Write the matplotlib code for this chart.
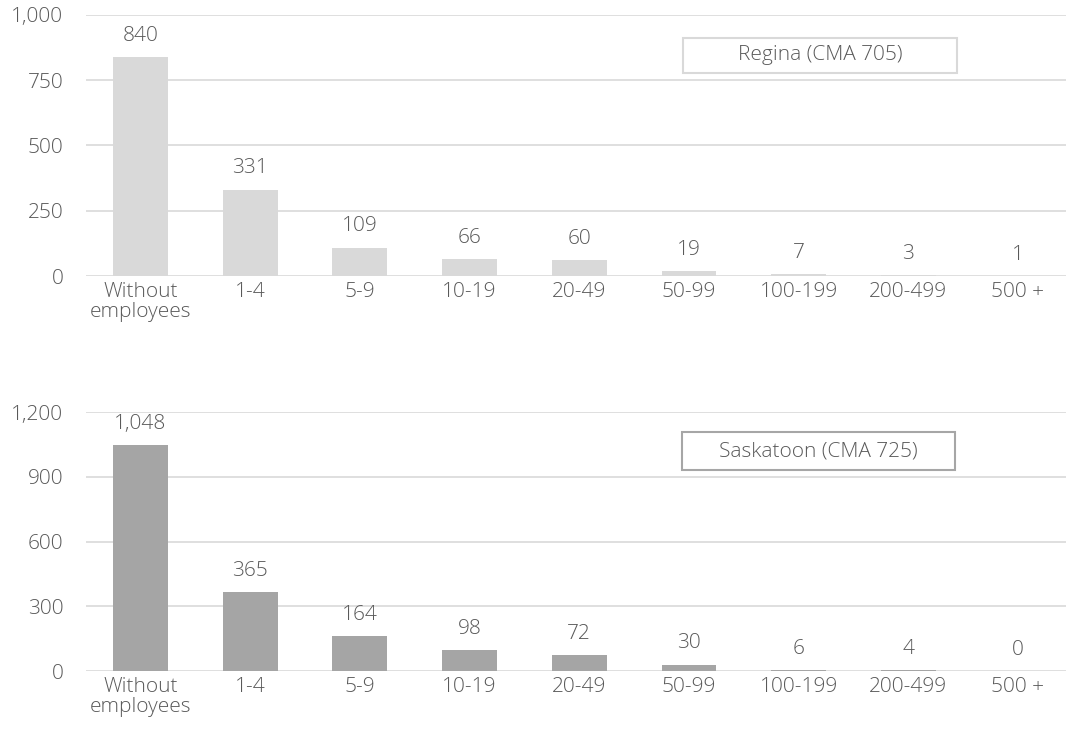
import numpy as np
import matplotlib.pyplot as plt
import matplotlib.patches as patches

# data
categories = ['Without\nemployees', '1-4', '5-9', '10-19', '20-49', '50-99', '100-199', '200-499', '500 +']
regina = [840, 331, 109, 66, 60, 19, 7, 3, 1]
saskatoon = [1048, 365, 164, 98, 72, 30, 6, 4, 0]
regina_ticks = [0, 250, 500, 750, 1000]
saskatoon_ticks = [0, 300, 600, 900, 1200]

plt.rcParams['font.family'] = ['Open Sans', 'DejaVu Sans']
plt.rcParams['font.weight'] = 'light'
txt_col = '#595959'
grid_col = '#d9d9d9'
fs = 15

fig = plt.figure(figsize=(10.66, 7.46), dpi=100)
ax1 = fig.add_axes([0.0804, 0.630, 0.926, 0.350])
ax2 = fig.add_axes([0.0804, 0.1005, 0.926, 0.347])


def draw_panel(ax, vals, ticks, color, label, box_col, box):
    x = np.arange(len(categories))
    bars = ax.bar(x, vals, width=0.5, color=color, zorder=2)
    for b, v in zip(bars, vals):
        ax.annotate(format(v, ','), (b.get_x() + b.get_width() / 2, v),
                    xytext=(0, 8), textcoords='offset points',
                    ha='center', va='bottom', fontsize=fs, color=txt_col)
    ax.set_xlim(-0.5, len(categories) - 0.5)
    ax.set_ylim(0, ticks[-1])
    ax.set_yticks(ticks)
    ax.set_yticklabels([format(t, ',') for t in ticks])
    ax.set_xticks(x)
    ax.set_xticklabels(categories, linespacing=1.05)
    ax.tick_params(length=0, labelsize=fs, labelcolor=txt_col)
    ax.tick_params(axis='y', pad=16)
    ax.tick_params(axis='x', pad=4)
    ax.yaxis.grid(True, color=grid_col, linewidth=1.2, zorder=0)
    ax.set_axisbelow(True)
    for s in ax.spines.values():
        s.set_visible(False)
    x0, y0, x1, y1 = box
    rect = patches.Rectangle((x0, y0), x1 - x0, y1 - y0, transform=ax.transAxes,
                             fill=True, facecolor='white', edgecolor=box_col,
                             linewidth=1.5, zorder=3, clip_on=False)
    ax.add_patch(rect)
    ax.text((x0 + x1) / 2, (y0 + y1) / 2, label, transform=ax.transAxes,
            ha='center', va='center', fontsize=fs, color=txt_col, zorder=4)


draw_panel(ax1, regina, regina_ticks, '#d9d9d9', 'Regina (CMA 705)', '#d9d9d9',
           (0.605, 0.778, 0.883, 0.912))
draw_panel(ax2, saskatoon, saskatoon_ticks, '#a5a5a5', 'Saskatoon (CMA 725)', '#a6a6a6',
           (0.604, 0.776, 0.881, 0.923))

fig.savefig('out.png', dpi=100)
